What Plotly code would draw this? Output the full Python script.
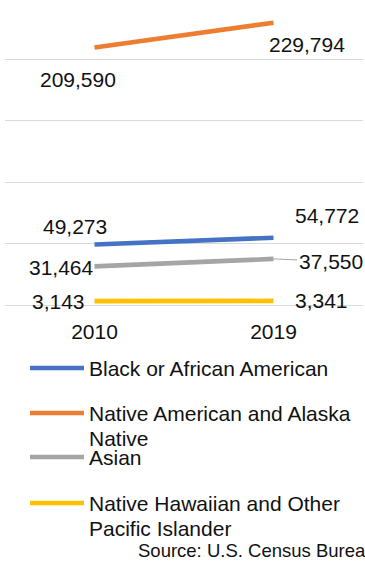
import plotly.graph_objects as go

# Population by race, 2010 vs 2019
years = ["2010", "2019"]
series_names = [
    "Black or African American",
    "Native American and Alaska<br>Native",
    "Asian",
    "Native Hawaiian and Other<br>Pacific Islander",
]
black = [49273, 54772]
native_american = [209590, 229794]
asian = [31464, 37550]
pacific_islander = [3143, 3341]
colors = ["#4472C4", "#ED7D31", "#A5A5A5", "#FFC000"]
source_text = "Source: U.S. Census Bureau"

values = [black, native_american, asian, pacific_islander]

# label offsets (pixels) relative to each point: (dx, dy) with dy positive downward
label_offsets = [
    [(-20, -18), (53, -22)],
    [(-17, 32), (33, 22)],
    [(-33, 1), (57, 2.5)],
    [(-36, 0), (48, 0)],
]

FONT = "Liberation Sans, Arial, sans-serif"
TXT = "#111111"

fig = go.Figure()
for name, vals, col in zip(series_names, values, colors):
    fig.add_trace(go.Scatter(
        x=years, y=vals, mode="lines", name=name.replace("<br>", " "),
        line=dict(color=col, width=4.6), showlegend=False,
        hoverinfo="x+y",
    ))

annotations = []
for s, (vals, offs) in enumerate(zip(values, label_offsets)):
    for i, v in enumerate(vals):
        dx, dy = offs[i]
        # category axis: annotations are placed by category index
        if s == 2 and i == 1:
            # leader line from moved label back to the point
            annotations.append(dict(
                x=i, y=v, xref="x", yref="y", text=f"{v:,}",
                showarrow=True, arrowhead=0, arrowwidth=1, arrowcolor="#A5A5A5",
                ax=dx, ay=dy, standoff=0,
                font=dict(family=FONT, size=21, color=TXT),
            ))
        else:
            annotations.append(dict(
                x=i, y=v, xref="x", yref="y", text=f"{v:,}",
                showarrow=False, xshift=dx, yshift=-dy,
                font=dict(family=FONT, size=21, color=TXT),
            ))

# legend drawn below the plot: key lines + labels
W, H = 365, 563
ml, mr, mt, mb = 5, 2, 0, 258
pw = W - ml - mr
ph = H - mt - mb


def px_x(p):
    return (p - ml) / pw


def px_y(p):
    return 1 - (p - mt) / ph


legend_rows = [368, 413, 457, 503]
line_gap = 25
shapes = []
for name, col, yc in zip(series_names, colors, legend_rows):
    shapes.append(dict(
        type="line", xref="paper", yref="paper",
        x0=px_x(30), x1=px_x(84), y0=px_y(yc), y1=px_y(yc),
        line=dict(color=col, width=4.6),
    ))
    for k, part in enumerate(name.split("<br>")):
        annotations.append(dict(
            xref="paper", yref="paper", x=px_x(87), y=px_y(yc + k * line_gap),
            xanchor="left", yanchor="middle", align="left", text=part,
            showarrow=False, font=dict(family=FONT, size=21, color=TXT),
        ))

annotations.append(dict(
    xref="paper", yref="paper", x=px_x(136), y=px_y(550),
    xanchor="left", yanchor="middle", text=source_text, showarrow=False,
    font=dict(family=FONT, size=18.5, color=TXT),
))

fig.update_layout(
    width=W, height=H,
    margin=dict(l=ml, r=mr, t=mt, b=mb, pad=0),
    paper_bgcolor="white", plot_bgcolor="white",
    annotations=annotations, shapes=shapes,
    xaxis=dict(
        type="category", range=[-0.5, 1.5], showgrid=False, zeroline=False,
        showline=False, ticks="", tickfont=dict(family=FONT, size=21, color=TXT),
        ticklabelstandoff=12,
    ),
    yaxis=dict(
        range=[0, 248300], dtick=50000, showticklabels=False,
        gridcolor="#D9D9D9", gridwidth=1.4,
        zeroline=True, zerolinecolor="#D9D9D9", zerolinewidth=1.4,
    ),
)

fig.write_html("out.html")
